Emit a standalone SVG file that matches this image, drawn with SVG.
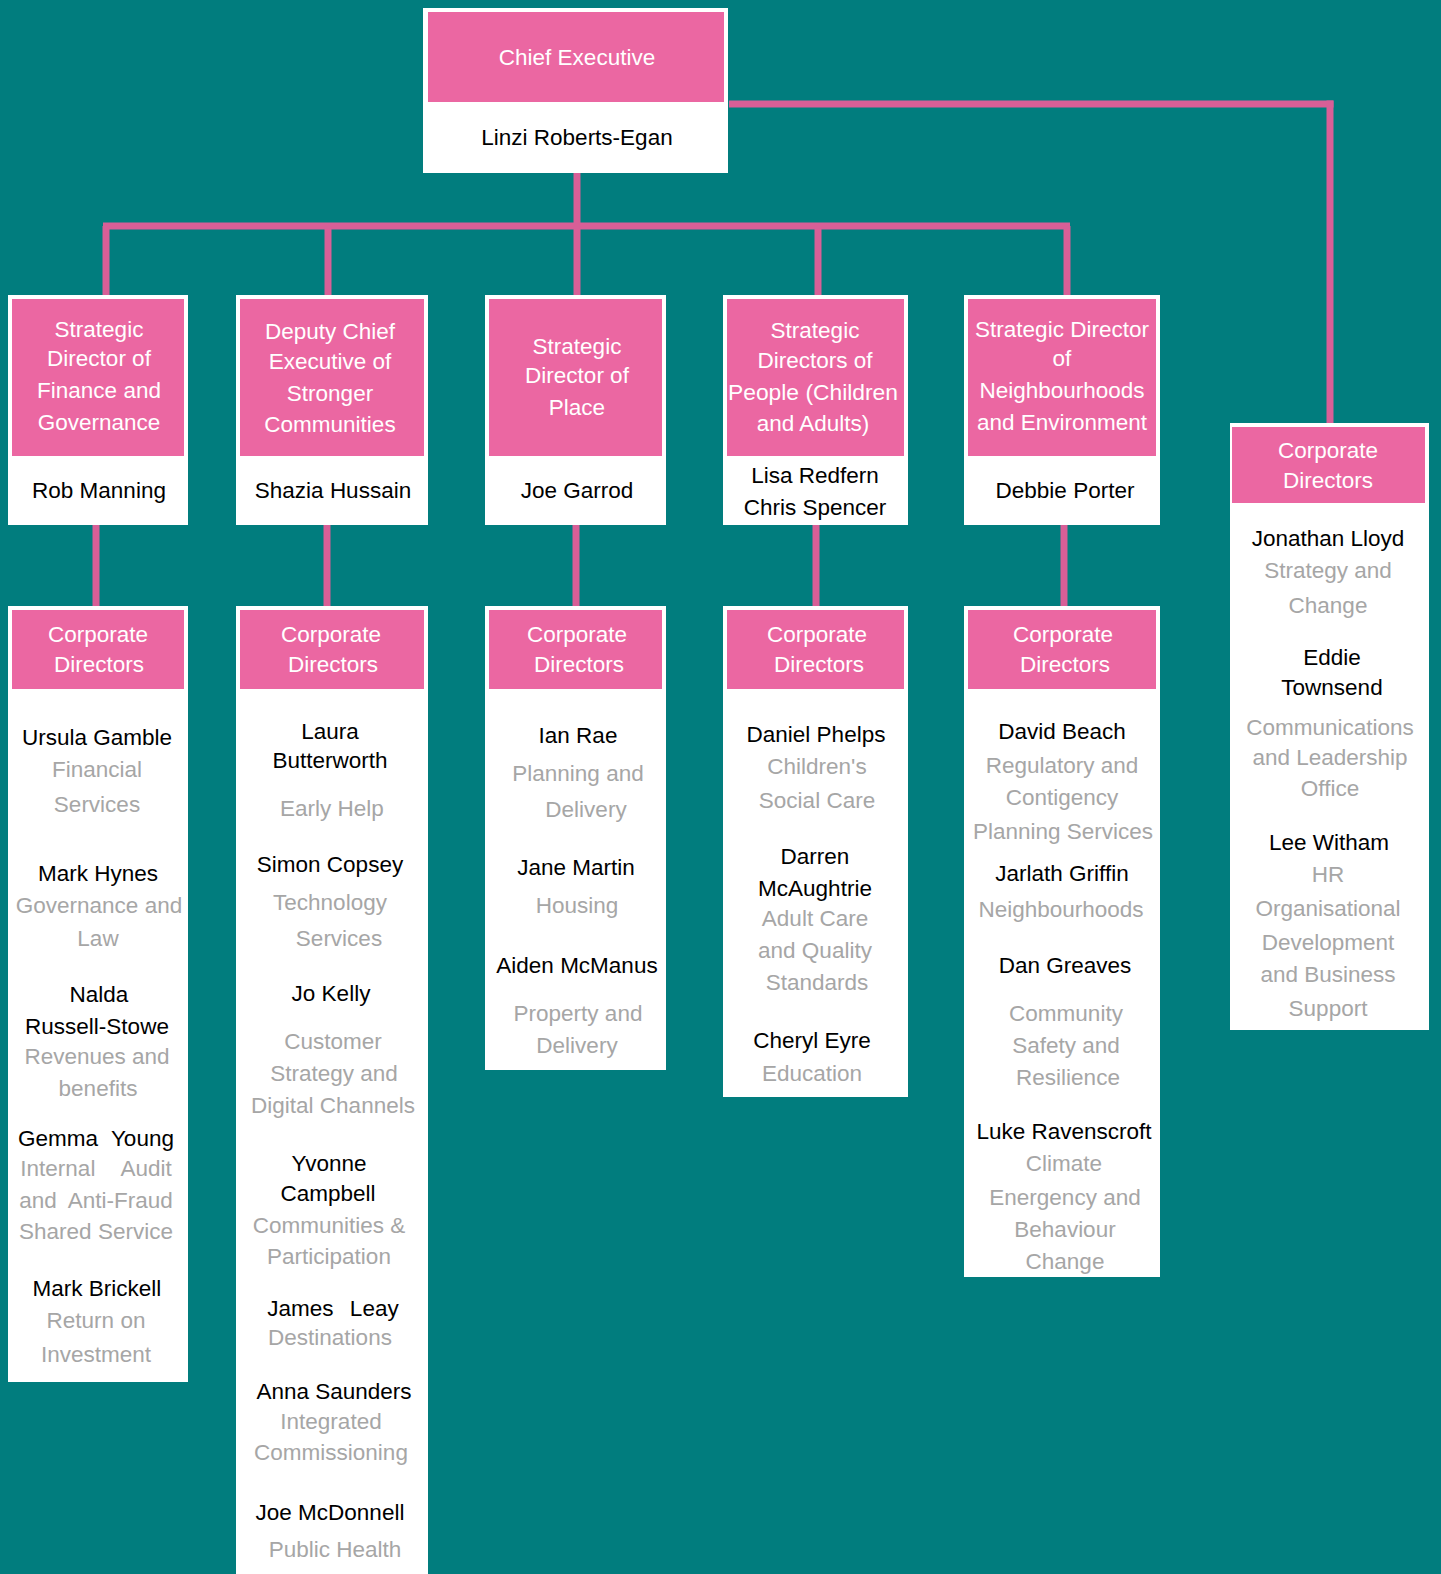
<svg xmlns="http://www.w3.org/2000/svg" width="1441" height="1574" viewBox="0 0 1441 1574">
<style>
.bg{fill:#017d7e}
.outer{fill:#ffffff}
.head{fill:#eb67a2}
.conn{stroke:#d85f97;stroke-width:7;fill:none;stroke-linecap:butt}
text{font-family:"Liberation Sans",Arial,sans-serif;font-size:22.5px;text-anchor:middle}
.ht{fill:#ffffff}
.nm{fill:#000000}
.ds{fill:#a6a6a6}
</style>
<rect class="bg" x="0" y="0" width="1441" height="1574"/>

<g id="connectors">
<path class="conn" d="M577,173 V226"/>
<path class="conn" d="M103,226 H1070"/>
<path class="conn" d="M106,226 V295"/>
<path class="conn" d="M328,226 V295"/>
<path class="conn" d="M577,226 V295"/>
<path class="conn" d="M818,226 V295"/>
<path class="conn" d="M1067,226 V295"/>
<path class="conn" d="M729,104 H1333.5"/>
<path class="conn" d="M1330,100.5 V425"/>
<path class="conn" d="M96,525 V606"/>
<path class="conn" d="M327,525 V606"/>
<path class="conn" d="M576,525 V606"/>
<path class="conn" d="M816,525 V606"/>
<path class="conn" d="M1064,525 V606"/>
</g>

<g id="chief">
<rect class="outer" x="423" y="8" width="305" height="165"/>
<rect class="head" x="428" y="12" width="296" height="90"/>
<text class="ht" x="577" y="65">Chief Executive</text>
<text class="nm" x="577" y="145">Linzi Roberts-Egan</text>
</g>

<g id="sd-finance">
<rect class="outer" x="8" y="295" width="180" height="230"/>
<rect class="head" x="12" y="299" width="172" height="157"/>
<text class="ht" x="99" y="337">Strategic</text>
<text class="ht" x="99" y="366">Director of</text>
<text class="ht" x="99" y="398">Finance and</text>
<text class="ht" x="99" y="430">Governance</text>
<text class="nm" x="99" y="498">Rob Manning</text>
</g>

<g id="dce-communities">
<rect class="outer" x="236" y="295" width="192" height="230"/>
<rect class="head" x="240" y="299" width="184" height="157"/>
<text class="ht" x="330" y="339">Deputy Chief</text>
<text class="ht" x="330" y="369">Executive of</text>
<text class="ht" x="330" y="401">Stronger</text>
<text class="ht" x="330" y="432">Communities</text>
<text class="nm" x="333" y="498">Shazia Hussain</text>
</g>

<g id="sd-place">
<rect class="outer" x="485" y="295" width="181" height="230"/>
<rect class="head" x="489" y="299" width="173" height="157"/>
<text class="ht" x="577" y="354">Strategic</text>
<text class="ht" x="577" y="383">Director of</text>
<text class="ht" x="577" y="415">Place</text>
<text class="nm" x="577" y="498">Joe Garrod</text>
</g>

<g id="sd-people">
<rect class="outer" x="723" y="295" width="185" height="230"/>
<rect class="head" x="727" y="299" width="177" height="157"/>
<text class="ht" x="815" y="338">Strategic</text>
<text class="ht" x="815" y="368">Directors of</text>
<text class="ht" x="813" y="400" textLength="170" lengthAdjust="spacingAndGlyphs">People (Children</text>
<text class="ht" x="813" y="431">and Adults)</text>
<text class="nm" x="815" y="483">Lisa Redfern</text>
<text class="nm" x="815" y="515">Chris Spencer</text>
</g>

<g id="sd-neighbourhoods">
<rect class="outer" x="964" y="295" width="196" height="230"/>
<rect class="head" x="968" y="299" width="188" height="157"/>
<text class="ht" x="1062" y="337">Strategic Director</text>
<text class="ht" x="1062" y="366">of</text>
<text class="ht" x="1062" y="398">Neighbourhoods</text>
<text class="ht" x="1062" y="430">and Environment</text>
<text class="nm" x="1065" y="498">Debbie Porter</text>
</g>

<g id="cd-chief">
<rect class="outer" x="1230" y="423" width="199" height="607"/>
<rect class="head" x="1232" y="427" width="193" height="76"/>
<text class="ht" x="1328" y="458">Corporate</text>
<text class="ht" x="1328" y="488">Directors</text>
<text class="nm" x="1328" y="546">Jonathan Lloyd</text>
<text class="ds" x="1328" y="578">Strategy and</text>
<text class="ds" x="1328" y="613">Change</text>
<text class="nm" x="1332" y="665">Eddie</text>
<text class="nm" x="1332" y="695">Townsend</text>
<text class="ds" x="1330" y="735">Communications</text>
<text class="ds" x="1330" y="765">and Leadership</text>
<text class="ds" x="1330" y="796">Office</text>
<text class="nm" x="1329" y="850">Lee Witham</text>
<text class="ds" x="1328" y="882">HR</text>
<text class="ds" x="1328" y="916">Organisational</text>
<text class="ds" x="1328" y="950">Development</text>
<text class="ds" x="1328" y="982">and Business</text>
<text class="ds" x="1328" y="1016">Support</text>
</g>

<g id="cd-finance">
<rect class="outer" x="8" y="606" width="180" height="776"/>
<rect class="head" x="12" y="610" width="172" height="79"/>
<text class="ht" x="98" y="642">Corporate</text>
<text class="ht" x="99" y="672">Directors</text>
<text class="nm" x="97" y="745">Ursula Gamble</text>
<text class="ds" x="97" y="777">Financial</text>
<text class="ds" x="97" y="812">Services</text>
<text class="nm" x="98" y="881">Mark Hynes</text>
<text class="ds" x="99" y="913">Governance and</text>
<text class="ds" x="98" y="946">Law</text>
<text class="nm" x="99" y="1002">Nalda</text>
<text class="nm" x="97" y="1034">Russell-Stowe</text>
<text class="ds" x="97" y="1064">Revenues and</text>
<text class="ds" x="98" y="1096">benefits</text>
<text class="nm" x="96" y="1146" style="word-spacing:7px">Gemma Young</text>
<text class="ds" x="96" y="1176" style="word-spacing:20px">Internal Audit</text>
<text class="ds" x="96" y="1208" style="word-spacing:6px">and Anti-Fraud</text>
<text class="ds" x="96" y="1239">Shared Service</text>
<text class="nm" x="97" y="1296">Mark Brickell</text>
<text class="ds" x="96" y="1328">Return on</text>
<text class="ds" x="96" y="1362">Investment</text>
</g>

<g id="cd-communities">
<rect class="outer" x="236" y="606" width="192" height="968"/>
<rect class="head" x="240" y="610" width="184" height="79"/>
<text class="ht" x="331" y="642">Corporate</text>
<text class="ht" x="333" y="672">Directors</text>
<text class="nm" x="330" y="739">Laura</text>
<text class="nm" x="330" y="768">Butterworth</text>
<text class="ds" x="332" y="816">Early Help</text>
<text class="nm" x="330" y="872">Simon Copsey</text>
<text class="ds" x="330" y="910">Technology</text>
<text class="ds" x="339" y="946">Services</text>
<text class="nm" x="331" y="1001">Jo Kelly</text>
<text class="ds" x="333" y="1049">Customer</text>
<text class="ds" x="334" y="1081">Strategy and</text>
<text class="ds" x="333" y="1113">Digital Channels</text>
<text class="nm" x="329" y="1171">Yvonne</text>
<text class="nm" x="328" y="1201">Campbell</text>
<text class="ds" x="329" y="1233">Communities &amp;</text>
<text class="ds" x="329" y="1264">Participation</text>
<text class="nm" x="333" y="1316" style="word-spacing:10px">James Leay</text>
<text class="ds" x="330" y="1345">Destinations</text>
<text class="nm" x="334" y="1399">Anna Saunders</text>
<text class="ds" x="331" y="1429">Integrated</text>
<text class="ds" x="331" y="1460">Commissioning</text>
<text class="nm" x="330" y="1520">Joe McDonnell</text>
<text class="ds" x="335" y="1557">Public Health</text>
</g>

<g id="cd-place">
<rect class="outer" x="485" y="606" width="181" height="464"/>
<rect class="head" x="489" y="610" width="173" height="79"/>
<text class="ht" x="577" y="642">Corporate</text>
<text class="ht" x="579" y="672">Directors</text>
<text class="nm" x="578" y="743">Ian Rae</text>
<text class="ds" x="578" y="781">Planning and</text>
<text class="ds" x="586" y="817">Delivery</text>
<text class="nm" x="576" y="875">Jane Martin</text>
<text class="ds" x="577" y="913">Housing</text>
<text class="nm" x="577" y="973">Aiden McManus</text>
<text class="ds" x="578" y="1021">Property and</text>
<text class="ds" x="577" y="1053">Delivery</text>
</g>

<g id="cd-people">
<rect class="outer" x="723" y="606" width="185" height="491"/>
<rect class="head" x="727" y="610" width="177" height="79"/>
<text class="ht" x="817" y="642">Corporate</text>
<text class="ht" x="819" y="672">Directors</text>
<text class="nm" x="816" y="742">Daniel Phelps</text>
<text class="ds" x="817" y="774">Children's</text>
<text class="ds" x="817" y="808">Social Care</text>
<text class="nm" x="815" y="864">Darren</text>
<text class="nm" x="815" y="896">McAughtrie</text>
<text class="ds" x="815" y="926">Adult Care</text>
<text class="ds" x="815" y="958">and Quality</text>
<text class="ds" x="817" y="990">Standards</text>
<text class="nm" x="812" y="1048">Cheryl Eyre</text>
<text class="ds" x="812" y="1081">Education</text>
</g>

<g id="cd-neighbourhoods">
<rect class="outer" x="964" y="606" width="196" height="671"/>
<rect class="head" x="968" y="610" width="188" height="79"/>
<text class="ht" x="1063" y="642">Corporate</text>
<text class="ht" x="1065" y="672">Directors</text>
<text class="nm" x="1062" y="739">David Beach</text>
<text class="ds" x="1062" y="773">Regulatory and</text>
<text class="ds" x="1062" y="805">Contigency</text>
<text class="ds" x="1063" y="839">Planning Services</text>
<text class="nm" x="1062" y="881">Jarlath Griffin</text>
<text class="ds" x="1061" y="917">Neighbourhoods</text>
<text class="nm" x="1065" y="973">Dan Greaves</text>
<text class="ds" x="1066" y="1021">Community</text>
<text class="ds" x="1066" y="1053">Safety and</text>
<text class="ds" x="1068" y="1085">Resilience</text>
<text class="nm" x="1064" y="1139">Luke Ravenscroft</text>
<text class="ds" x="1064" y="1171">Climate</text>
<text class="ds" x="1065" y="1205">Energency and</text>
<text class="ds" x="1065" y="1237">Behaviour</text>
<text class="ds" x="1065" y="1269">Change</text>
</g>
</svg>
